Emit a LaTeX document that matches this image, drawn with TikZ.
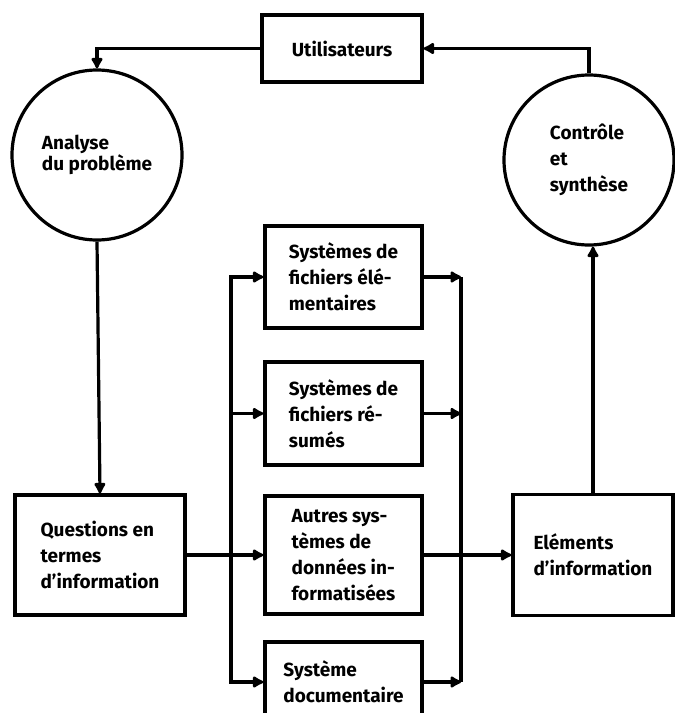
\documentclass[tikz,border=0pt]{standalone}
\usepackage{fontspec}
\setmainfont{Fira Sans}
\usetikzlibrary{arrows.meta,positioning}

\tikzset{
	box/.style={draw, line width=3.2pt, rectangle, align=left, font=\bfseries\fontsize{19}{26}\selectfont},
	ring/.style={draw, line width=3.2pt, circle, minimum size=170pt, inner sep=0pt, align=left, font=\bfseries\fontsize{19}{26}\selectfont},
	wire/.style={line width=3.2pt},
	link/.style={line width=3.2pt, -{Latex[length=13pt,width=14pt,round]}},
}

\begin{document}
\begin{tikzpicture}[x=1pt, y=-1pt]
	\useasboundingbox (0,0) rectangle (675,713);

	\node[box, minimum width=160pt, minimum height=67pt] (users) at (342,48.5) {Utilisateurs};
	\node[ring] (analyse) at (97,155) {Analyse\\[-5pt]du problème};
	\node[ring] (controle) at (589,160) {Contrôle\\et\\synthèse};

	\node[box, minimum width=170pt, minimum height=120pt] (questions) at (100,555) {Questions en\\termes\\d'information};
	\node[box, minimum width=160pt, minimum height=121pt] (elements) at (593,555) {Eléments\\d'information};

	\node[box, minimum width=157pt, minimum height=102pt] (fich1) at (343.5,277) {Systèmes de\\fichiers élé-\\mentaires};
	\node[box, minimum width=157pt, minimum height=103pt] (fich2) at (343.5,413.5) {Systèmes de\\fichiers ré-\\sumés};
	\node[box, minimum width=157pt, minimum height=118pt] (autres) at (343.5,555) {Autres sys-\\tèmes de\\données in-\\formatisées};
	\node[box, minimum width=157pt, minimum height=80pt] (docu) at (343.5,682) {Système\\documentaire};

	\coordinate (busL) at (231,0);
	\coordinate (busR) at (461,0);

	% boucle du haut
	\draw[link] (users.west) -| (analyse.north);
	\draw[link] (controle.north) |- (users.east);
	\draw[link] (analyse.south) -- (questions.north);
	\draw[link] (elements.north) -- (elements.north |- controle.south);

	% distribution a gauche
	\draw[link] (questions.east) -- (autres.west);
	\draw[link] (questions.east -| busL) |- (fich1.west);
	\draw[link] (questions.east -| busL) |- (fich2.west);
	\draw[link] (questions.east -| busL) |- (docu.west);

	% regroupement a droite
	\draw[wire] (fich1.east -| busR) -- (docu.east -| busR);
	\draw[link] (fich1.east) -- (fich1.east -| busR);
	\draw[link] (fich2.east) -- (fich2.east -| busR);
	\draw[link] (docu.east) -- (docu.east -| busR);
	\draw[link] (autres.east) -- (elements.west);
\end{tikzpicture}
\end{document}
